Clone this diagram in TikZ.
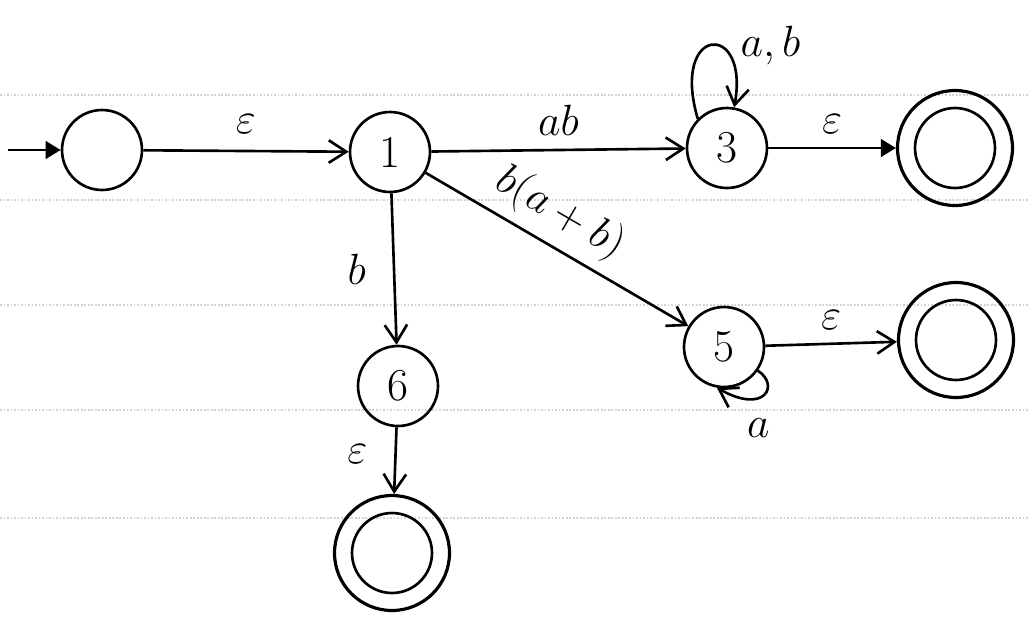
\documentclass[tikz,border=0pt]{standalone}
\usetikzlibrary{arrows.meta}
\begin{document}
\begin{tikzpicture}[x=0.02cm,y=-0.02cm,
  st/.style={circle,draw,line width=1.5pt,minimum size=1.6cm,inner sep=0pt,font=\fontsize{26}{28}\selectfont},
  acc/.style={circle,draw,line width=1.8pt,minimum size=2.3cm,inner sep=0pt,
    path picture={\draw[line width=1.5pt] (path picture bounding box.center) circle (0.8cm);}},
  tr/.style={line width=1.5pt,-{Straight Barb[length=3.5mm,width=4.5mm,line width=1.5pt]}},
  trf/.style={line width=1.5pt,-{Triangle[length=3mm,width=3.5mm]}},
  lab/.style={font=\fontsize{24}{26}\selectfont},
  rule/.style={gray!35,line width=0.6pt,dash pattern=on 1pt off 1pt}]
\useasboundingbox (0,0) rectangle (1029,623);
% notebook ruling
\foreach \yy in {95,200,305,410,518}
  \draw[rule] (0,\yy) -- (1029,\yy);
% states
\node[st] (s0) at (102,150) {};
\node[st] (s1) at (390,152) {1};
\node[st] (s3) at (727,148) {3};
\node[acc] (f3) at (955,148) {};
\node[st] (s5) at (724,347) {5};
\node[acc] (f5) at (956,340) {};
\node[st] (s6) at (398,386) {6};
\node[acc] (f6) at (392,553) {};
\coordinate (in) at (8,150);
% transitions
\draw[trf] (in) -- (s0);
\draw[tr] (s0) -- node[lab,above=6pt] {$\varepsilon$} (s1);
\draw[tr] (s1) -- node[lab,above=4pt] {$ab$} (s3);
\draw[trf] (s3) -- node[lab,above=4pt] {$\varepsilon$} (f3);
\draw[tr] (s1) -- node[lab,above=2pt,sloped,pos=0.45] {$b(a+b)$} (s5);
\draw[tr] (s1) -- node[lab,left=12pt] {$b$} (s6);
\draw[tr] (s5) -- node[lab,above=4pt] {$\varepsilon$} (f5);
\draw[tr] (s6) -- node[lab,left=12pt,pos=0.4] {$\varepsilon$} (f6);
\draw[tr] (s3.135) .. controls (670,25) and (750,20) .. node[lab,right=10pt,pos=0.55] {$a,b$} (s3.80);
\draw[tr] (s5.-35) .. controls (780,385) and (765,415) .. node[lab,below=8pt,pos=0.6] {$a$} (s5.-100);
\end{tikzpicture}
\end{document}
